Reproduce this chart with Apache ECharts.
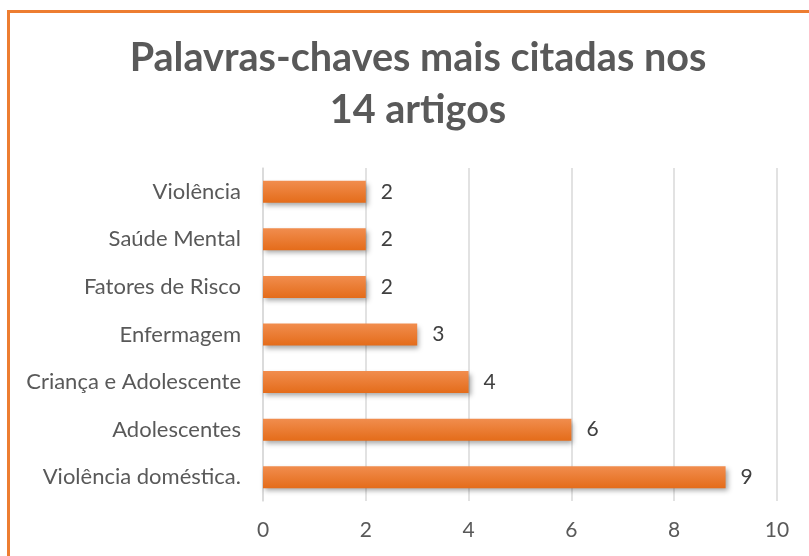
<!DOCTYPE html>
<html>
<head>
<meta charset="utf-8">
<script src="https://cdn.jsdelivr.net/npm/echarts@6/dist/echarts.min.js"></script>
<style>
  html, body { margin: 0; padding: 0; background: #fff; overflow: hidden; }
  #frame { position: absolute; left: 7px; top: 10px; width: 900px; height: 700px; border: 3px solid #ED7D31; }
  #chart { position: absolute; left: 0; top: 0; width: 809px; height: 556px; }
</style>
</head>
<body>
<div id="frame"></div>
<div id="chart"></div>
<script>
// categories from bottom to top
const categories = ['Violência doméstica.', 'Adolescentes', 'Criança e Adolescente', 'Enfermagem', 'Fatores de Risco', 'Saúde Mental', 'Violência']
const counts = [9, 6, 4, 3, 2, 2, 2]
const xTicks = [0, 2, 4, 6, 8, 10]

const chart = echarts.init(document.getElementById('chart'))

const option = {
  backgroundColor: 'transparent',
  animation: false,
  title: {
    text: 'Palavras-chaves mais citadas nos\n14 artigos',
    left: 413,
    top: 27,
    textAlign: 'center',
    textStyle: {
      fontFamily: 'Lato',
      fontWeight: 'bold',
      fontSize: 39.6,
      lineHeight: 52,
      color: '#595959'
    }
  },
  grid: {
    left: 263,
    right: 32,
    top: 168,
    bottom: 55
  },
  xAxis: {
    type: 'value',
    min: xTicks[0],
    max: xTicks[xTicks.length - 1],
    interval: 2,
    axisLine: { show: false },
    axisTick: { show: false },
    axisLabel: {
      margin: 19,
      fontFamily: 'Lato',
      fontSize: 21,
      color: '#595959'
    },
    splitLine: { lineStyle: { color: '#D9D9D9', width: 1.5 } }
  },
  yAxis: {
    type: 'category',
    data: categories,
    axisLine: { lineStyle: { color: '#D9D9D9', width: 1.5 } },
    axisTick: { show: false },
    axisLabel: {
      margin: 22,
      fontFamily: 'Lato',
      fontSize: 22,
      color: '#595959'
    }
  },
  series: [
    {
      type: 'bar',
      data: counts,
      barWidth: 22,
      itemStyle: {
        color: new echarts.graphic.LinearGradient(0, 0, 0, 1, [
          { offset: 0, color: '#F18D4E' },
          { offset: 1, color: '#E46C1A' }
        ]),
        shadowColor: 'rgba(0,0,0,0.35)',
        shadowBlur: 5,
        shadowOffsetX: 2,
        shadowOffsetY: 3
      },
      label: {
        show: true,
        position: 'right',
        distance: 15,
        fontFamily: 'Lato',
        fontSize: 21,
        color: '#404040'
      }
    }
  ]
}

chart.setOption(option)
</script>
</body>
</html>
